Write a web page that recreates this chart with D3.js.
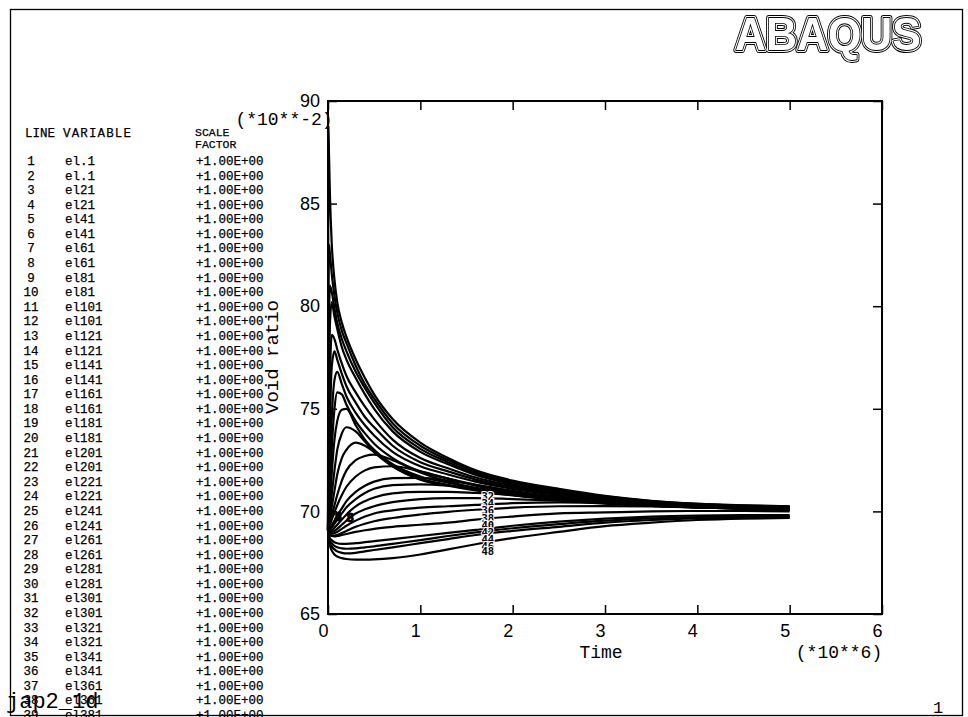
<!DOCTYPE html>
<html><head><meta charset="utf-8">
<script src="https://cdn.jsdelivr.net/npm/d3@7"></script>
<style>body{margin:0;background:#fff} svg{display:block}</style>
</head><body>
<svg id="c" width="968" height="717"></svg>
<script>
// ---- DATA ----
// time samples (*10**6)
const times = [0, 0.005, 0.01, 0.02, 0.04, 0.07, 0.1, 0.15, 0.2, 0.3, 0.4, 0.5, 0.7, 1.0, 1.3, 1.6, 2.0, 2.5, 3.0, 3.5, 4.0, 4.5, 5.0];
// void ratio (*10**-2), one array per element
const el_1  = [69.1, 88.8, 87.6, 85.6, 83.1, 81.3, 80.2, 79.2, 78.5, 77.4, 76.5, 75.7, 74.5, 73.35, 72.6, 72.0, 71.5, 71.1, 70.76, 70.52, 70.38, 70.3, 70.25];
const el21  = [69.1, 80.0, 83.0, 82.6, 81.6, 80.5, 79.7, 78.8, 78.2, 77.1, 76.2, 75.5, 74.3, 73.2, 72.5, 71.92, 71.44, 71.05, 70.73, 70.5, 70.36, 70.28, 70.23];
const el41  = [69.1, 75.0, 78.5, 81.0, 80.7, 79.9, 79.2, 78.4, 77.8, 76.8, 76.0, 75.3, 74.1, 73.05, 72.4, 71.85, 71.38, 71.0, 70.7, 70.48, 70.34, 70.27, 70.22];
const el61  = [69.1, 72.5, 75.5, 79.0, 80.2, 79.5, 78.9, 78.0, 77.4, 76.5, 75.7, 75.0, 73.9, 72.9, 72.3, 71.78, 71.33, 70.96, 70.67, 70.46, 70.33, 70.26, 70.2];
const el81  = [69.1, 71.0, 73.0, 76.2, 78.6, 78.4, 77.9, 77.2, 76.6, 75.8, 75.1, 74.5, 73.5, 72.6, 72.1, 71.65, 71.25, 70.9, 70.63, 70.44, 70.32, 70.25, 70.19];
const el101 = [69.1, 70.3, 71.5, 74.0, 77.0, 77.8, 77.4, 76.7, 76.1, 75.3, 74.6, 74.1, 73.2, 72.4, 71.95, 71.55, 71.18, 70.86, 70.6, 70.42, 70.3, 70.24, 70.18];
const el121 = [69.1, 69.8, 70.4, 72.0, 74.5, 76.4, 76.8, 76.2, 75.6, 74.8, 74.2, 73.7, 72.9, 72.2, 71.8, 71.45, 71.1, 70.8, 70.56, 70.4, 70.29, 70.23, 70.17];
const el141 = [69.1, 69.5, 69.9, 71.0, 73.0, 75.0, 75.8, 75.7, 75.2, 74.4, 73.8, 73.3, 72.6, 71.95, 71.6, 71.3, 70.98, 70.72, 70.5, 70.36, 70.27, 70.21, 70.16];
const el161 = [69.1, 69.3, 69.6, 70.3, 71.8, 73.5, 74.4, 74.95, 75.0, 74.2, 73.5, 73.0, 72.3, 71.7, 71.4, 71.15, 70.88, 70.65, 70.46, 70.33, 70.25, 70.2, 70.15];
const el181 = [69.1, 69.2, 69.4, 69.9, 70.8, 72.0, 73.0, 73.8, 74.1, 73.9, 73.4, 72.9, 72.2, 71.6, 71.3, 71.07, 70.82, 70.6, 70.43, 70.31, 70.23, 70.18, 70.14];
const el201 = [69.1, 69.15, 69.3, 69.6, 70.2, 71.0, 71.8, 72.6, 73.0, 73.35, 73.2, 72.9, 72.2, 71.55, 71.25, 71.02, 70.78, 70.57, 70.4, 70.29, 70.21, 70.16, 70.12];
const el221 = [69.1, 69.1, 69.2, 69.4, 69.8, 70.3, 70.8, 71.5, 72.0, 72.5, 72.7, 72.77, 72.5, 71.9, 71.45, 71.12, 70.8, 70.55, 70.38, 70.27, 70.19, 70.14, 70.1];
const el241 = [69.1, 69.1, 69.15, 69.3, 69.6, 69.95, 70.3, 70.8, 71.2, 71.7, 72.0, 72.15, 72.2, 71.95, 71.6, 71.25, 70.9, 70.6, 70.4, 70.27, 70.19, 70.13, 70.09];
const el261 = [69.1, 69.05, 69.05, 69.1, 69.3, 69.55, 69.8, 70.15, 70.5, 70.95, 71.25, 71.45, 71.62, 71.63, 71.5, 71.3, 71.0, 70.68, 70.45, 70.3, 70.2, 70.13, 70.08];
const el281 = [69.1, 69.02, 69.02, 69.05, 69.2, 69.4, 69.6, 69.9, 70.2, 70.6, 70.9, 71.1, 71.28, 71.32, 71.25, 71.1, 70.9, 70.64, 70.45, 70.3, 70.2, 70.14, 70.09];
const el301 = [69.1, 69.0, 69.0, 69.0, 69.05, 69.2, 69.35, 69.6, 69.85, 70.25, 70.5, 70.68, 70.88, 70.95, 70.95, 70.9, 70.8, 70.62, 70.45, 70.32, 70.22, 70.15, 70.1];
const el321 = [69.1, 69.0, 68.98, 68.95, 68.98, 69.05, 69.15, 69.35, 69.55, 69.9, 70.1, 70.25, 70.45, 70.6, 70.65, 70.65, 70.6, 70.52, 70.42, 70.32, 70.24, 70.18, 70.12];
const el341 = [69.1, 69.0, 68.95, 68.9, 68.9, 68.95, 69.0, 69.15, 69.3, 69.55, 69.75, 69.9, 70.05, 70.18, 70.25, 70.32, 70.4, 70.44, 70.42, 70.36, 70.28, 70.2, 70.12];
const el361 = [69.1, 68.98, 68.92, 68.85, 68.82, 68.82, 68.85, 68.95, 69.05, 69.25, 69.4, 69.52, 69.68, 69.85, 69.98, 70.08, 70.18, 70.25, 70.26, 70.24, 70.2, 70.15, 70.1];
const el381 = [69.1, 68.95, 68.9, 68.85, 68.8, 68.78, 68.8, 68.85, 68.9, 69.0, 69.08, 69.15, 69.25, 69.35, 69.45, 69.6, 69.75, 69.9, 69.95, 70.0, 70.02, 70.02, 70.0];
const el401 = [69.1, 68.9, 68.8, 68.7, 68.6, 68.5, 68.45, 68.42, 68.42, 68.45, 68.5, 68.55, 68.65, 68.8, 68.95, 69.1, 69.3, 69.5, 69.65, 69.75, 69.8, 69.82, 69.82];
const el421 = [69.1, 68.88, 68.75, 68.6, 68.45, 68.32, 68.25, 68.2, 68.18, 68.2, 68.25, 68.3, 68.42, 68.6, 68.8, 68.98, 69.18, 69.38, 69.55, 69.66, 69.72, 69.75, 69.76];
const el441 = [69.1, 68.85, 68.7, 68.5, 68.3, 68.15, 68.05, 67.98, 67.95, 67.98, 68.05, 68.12, 68.25, 68.45, 68.65, 68.85, 69.05, 69.25, 69.45, 69.58, 69.66, 69.7, 69.72];
const el461 = [69.1, 68.8, 68.6, 68.35, 68.1, 67.9, 67.8, 67.72, 67.68, 67.65, 67.65, 67.66, 67.72, 67.9, 68.15, 68.4, 68.7, 69.0, 69.28, 69.45, 69.58, 69.65, 69.68];
const seriesList = [el_1, el21, el41, el61, el81, el101, el121, el141, el161, el181, el201, el221,
                    el241, el261, el281, el301, el321, el341, el361, el381, el401, el421, el441, el461];

// legend table
const legendLine = ["1","2","3","4","5","6","7","8","9","10","11","12","13","14","15","16","17","18","19","20",
                    "21","22","23","24","25","26","27","28","29","30","31","32","33","34","35","36","37","38","39"];
const legendVariable = ["el.1","el.1","el21","el21","el41","el41","el61","el61","el81","el81",
                        "el101","el101","el121","el121","el141","el141","el161","el161","el181","el181",
                        "el201","el201","el221","el221","el241","el241","el261","el261","el281","el281",
                        "el301","el301","el321","el321","el341","el341","el361","el361","el381"];
const legendScale = "+1.00E+00";

// axis ticks
const xTicks = [0, 1, 2, 3, 4, 5, 6];
const yTicks = [65, 70, 75, 80, 85, 90];

// curve number labels (ABAQUS line ids)
const curveLabelText = ["32","34","36","38","40","42","44","46","48"];
const curveLabelV    = [70.75, 70.4, 70.05, 69.7, 69.35, 69.0, 68.65, 68.3, 68.05];
const curveLabelT    = 1.73;
const startLabelT    = [0.11, 0.24];
const startLabelV    = [69.8, 69.72];

// ---- DRAW ----
const svg = d3.select("#c");
const defs = svg.append("defs");
defs.append("filter").attr("id", "gray").append("feOffset").attr("dx", 0).attr("dy", 0);

const x = d3.scaleLinear().domain([0, 6]).range([328, 882]);
const y = d3.scaleLinear().domain([65, 90]).range([614, 101]);

// outer frame
svg.append("rect").attr("x", 10.5).attr("y", 9.5).attr("width", 952).attr("height", 706)
  .attr("fill", "none").attr("stroke", "#000").attr("stroke-width", 1.3);

// ABAQUS outlined logo
const logo = svg.append("g").attr("font-family", "Liberation Sans, Arial, sans-serif")
  .attr("font-weight", "bold").attr("font-size", 47).attr("filter", "url(#gray)");
[[6, "#000"], [4, "#fff"], [1.8, "#000"]].forEach(([w, c]) => {
  logo.append("text").attr("x", 735).attr("y", 50).attr("textLength", 186)
    .attr("lengthAdjust", "spacingAndGlyphs").attr("fill", "none")
    .attr("stroke", c).attr("stroke-width", w).attr("stroke-linejoin", "round").text("ABAQUS");
});
logo.append("text").attr("x", 735).attr("y", 50).attr("textLength", 186)
  .attr("lengthAdjust", "spacingAndGlyphs").attr("fill", "#fff").text("ABAQUS");

// legend
const mono = "Liberation Mono, Courier New, monospace";
const leg = svg.append("g").attr("font-family", mono).attr("fill", "#000")
  .attr("stroke", "#000").attr("stroke-width", 0.25);
leg.append("text").attr("x", 25).attr("y", 137).attr("font-size", 12.5).text("LINE");
leg.append("text").attr("x", 63).attr("y", 137).attr("font-size", 12.5)
  .attr("textLength", 68).text("VARIABLE");
leg.append("text").attr("x", 195).attr("y", 136).attr("font-size", 11.5).text("SCALE");
leg.append("text").attr("x", 195).attr("y", 148).attr("font-size", 11.5).text("FACTOR");
const rowY = i => 165 + i * 14.58;
legendLine.forEach((id, i) => {
  leg.append("text").attr("x", 31).attr("y", rowY(i)).attr("font-size", 12.5)
    .attr("text-anchor", "middle").text(id);
  leg.append("text").attr("x", 65).attr("y", rowY(i)).attr("font-size", 12.5).text(legendVariable[i]);
  leg.append("text").attr("x", 196).attr("y", rowY(i)).attr("font-size", 12.5).text(legendScale);
});

// axes (ticks inward)
const gx = svg.append("g").attr("transform", `translate(0,${y(65)})`)
  .call(d3.axisBottom(x).tickValues(xTicks).tickSize(-9).tickSizeOuter(0).tickPadding(10).tickFormat(d3.format("d")));
gx.selectAll("text").attr("dx", -5);
const gy = svg.append("g").attr("transform", `translate(${x(0)},0)`)
  .call(d3.axisLeft(y).tickValues(yTicks).tickSize(-9).tickSizeOuter(0).tickPadding(8).tickFormat(d3.format("d")));
svg.append("g").attr("transform", `translate(0,${y(90)})`)
  .call(d3.axisTop(x).tickValues(xTicks).tickSize(-9).tickSizeOuter(0).tickFormat(""));
svg.append("g").attr("transform", `translate(${x(6)},0)`)
  .call(d3.axisRight(y).tickValues(yTicks).tickSize(-9).tickSizeOuter(0).tickFormat(""));
svg.selectAll(".domain").remove();
svg.selectAll(".tick line").attr("stroke", "#000").attr("stroke-width", 1.5);
svg.selectAll(".tick text").attr("font-family", "Liberation Sans, Arial, sans-serif")
  .attr("font-size", 18).attr("fill", "#000");

// plot box
svg.append("rect").attr("x", x(0)).attr("y", y(90)).attr("width", x(6) - x(0)).attr("height", y(65) - y(90))
  .attr("fill", "none").attr("stroke", "#000").attr("stroke-width", 2);

// axis titles
svg.append("text").attr("x", 284).attr("y", 125).attr("text-anchor", "middle")
  .attr("font-family", mono).attr("font-size", 18).text("(*10**-2)");
svg.append("text").attr("transform", "translate(278,357) rotate(-90)").attr("text-anchor", "middle")
  .attr("font-family", mono).attr("font-size", 19).text("Void ratio");
svg.append("text").attr("x", 601).attr("y", 658).attr("text-anchor", "middle")
  .attr("font-family", mono).attr("font-size", 18).text("Time");
svg.append("text").attr("x", 839).attr("y", 658).attr("text-anchor", "middle")
  .attr("font-family", mono).attr("font-size", 18).text("(*10**6)");

// curves
const line = d3.line().x((d, i) => x(times[i])).y(d => y(d)).curve(d3.curveMonotoneX);
svg.append("g").selectAll("path").data(seriesList).join("path")
  .attr("d", line).attr("fill", "none").attr("stroke", "#000")
  .attr("stroke-width", 2.2).attr("stroke-linejoin", "round");

// curve labels
svg.append("g").selectAll("text").data(curveLabelText).join("text")
  .attr("x", x(curveLabelT)).attr("y", (d, i) => y(curveLabelV[i]) + 4)
  .attr("text-anchor", "middle").attr("font-family", "DejaVu Sans Mono, monospace")
  .attr("font-weight", "bold").attr("font-size", 10.5)
  .attr("fill", "#000").attr("stroke", "#fff").attr("stroke-width", 2).attr("paint-order", "stroke")
  .text(d => d);
svg.append("g").selectAll("text").data(startLabelT).join("text")
  .attr("x", d => x(d)).attr("y", (d, i) => y(startLabelV[i]) + 5)
  .attr("text-anchor", "middle").attr("font-family", "DejaVu Sans Mono, monospace")
  .attr("font-weight", "bold").attr("font-size", 13).attr("fill", "#000")
  .attr("stroke", "#000").attr("stroke-width", 1).text("8");

// footer texts
svg.append("text").attr("x", 6).attr("y", 708).attr("font-family", mono).attr("font-size", 22).text("jap2_1d");
svg.append("text").attr("x", 938).attr("y", 713).attr("text-anchor", "middle")
  .attr("font-family", mono).attr("font-size", 17).text("1");
</script>
</body></html>
